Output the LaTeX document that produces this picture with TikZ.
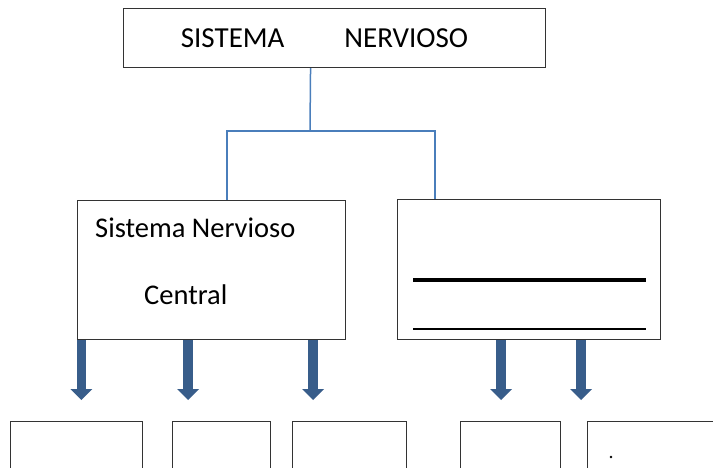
\documentclass[tikz,border=0pt]{standalone}
\usepackage{fontspec}
\setmainfont{Carlito}
\usetikzlibrary{positioning}
\usetikzlibrary{arrows.meta}

\definecolor{linkblue}{RGB}{74,126,187}
\definecolor{arrowblue}{RGB}{56,93,138}

\begin{document}
\begin{tikzpicture}[x=1pt,y=-1pt,
  box/.style={draw=black!80, line width=1.1pt, inner sep=0pt, anchor=north west},
  link/.style={linkblue, line width=1.5pt},
  dnarrow/.style={arrowblue, line width=9.5pt, shorten >=21pt,
    -{Triangle[width=22pt,length=11pt,line width=0pt]}},
  lbl/.style={anchor=base west, inner sep=0pt, font=\fontsize{28.5}{34}\selectfont}]
\clip (0,0) rectangle (713,468);

%top box
\node[box, minimum width=422pt, minimum height=59pt, font=\fontsize{29}{34}\selectfont] (sn) at (123,8) {SISTEMA\hspace{60pt}NERVIOSO\hspace*{20pt}};

%second level
\node[box, minimum width=268pt, minimum height=139pt] (snc) at (77,200) {};
\node[lbl] (sncA) at (95,238) {Sistema Nervioso};
\node[lbl] (sncB) at (144,305) {Central};
\node[box, minimum width=263pt, minimum height=140pt] (snp) at (397,199) {};
%blank lines
\draw[black, line width=4pt] ([xshift=16pt,yshift=-81pt]snp.north west) -- ([xshift=-15pt,yshift=-81pt]snp.north east);
\draw[black, line width=1.2pt] ([xshift=16pt,yshift=-130pt]snp.north west) -- ([xshift=-15pt,yshift=-130pt]snp.north east);

%tree lines
\coordinate (fork) at (310,131);
\draw[link] ([xshift=-24pt]sn.south) -- (fork);
\draw[link] ([xshift=150pt]snc.north west) |- (fork) -| ([xshift=38pt]snp.north west);

%bottom boxes
\node[box, minimum width=132pt, minimum height=80pt] (bxA) at (10,421) {};
\node[box, minimum width=98pt, minimum height=80pt] (bxB) at (172,421) {};
\node[box, minimum width=114pt, minimum height=80pt] (bxC) at (292,421) {};
\node[box, minimum width=100pt, minimum height=80pt] (bxD) at (460,421) {};
\node[box, minimum width=140pt, minimum height=80pt] (bxE) at (587,421) {};
\fill (611,457) circle (1.3pt);%dot

%arrows
\draw[dnarrow] ([xshift=4.3pt]snc.south west) -- ([xshift=4.3pt]snc.south west |- bxA.north);
\draw[dnarrow] ([xshift=111pt]snc.south west) -- ([xshift=111pt]snc.south west |- bxB.north);
\draw[dnarrow] ([xshift=236pt]snc.south west) -- ([xshift=236pt]snc.south west |- bxC.north);
\draw[dnarrow] ([xshift=104pt]snp.south west) -- ([xshift=104pt]snp.south west |- bxD.north);
\draw[dnarrow] ([xshift=184pt]snp.south west) -- ([xshift=184pt]snp.south west |- bxE.north);

\end{tikzpicture}
\end{document}
